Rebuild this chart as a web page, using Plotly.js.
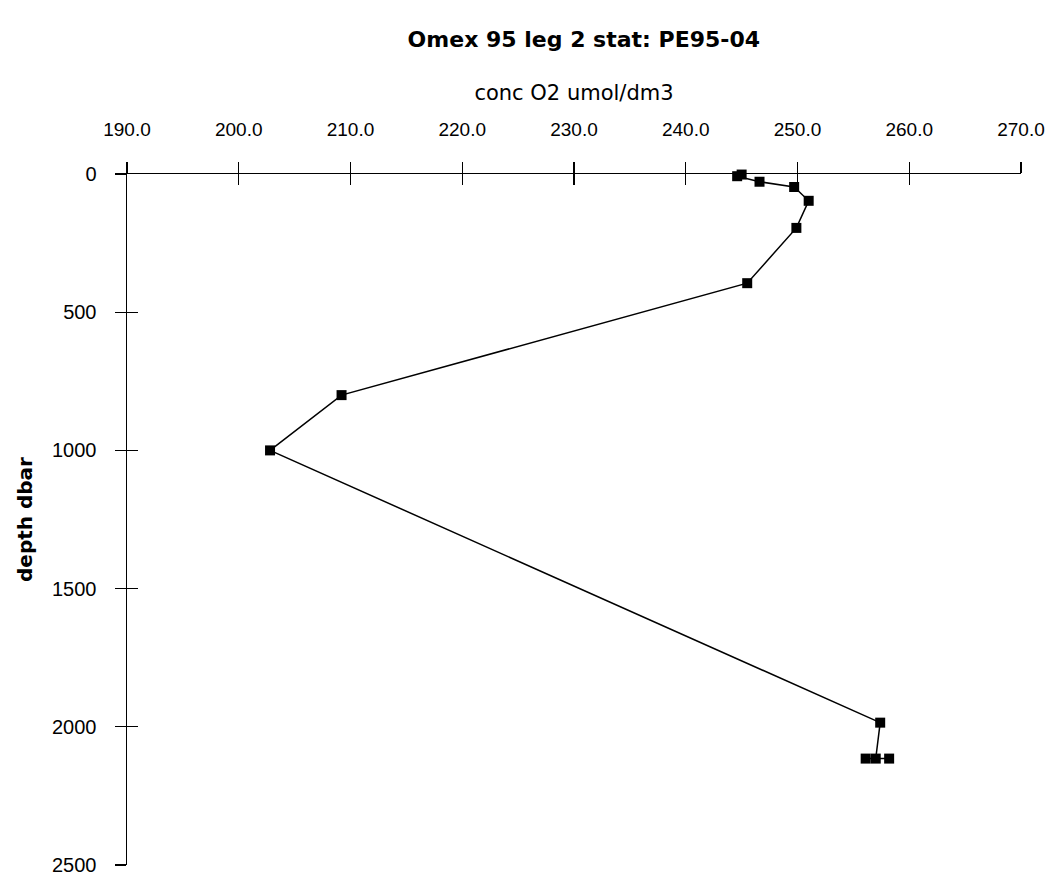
<!DOCTYPE html>
<html>
<head>
<meta charset="utf-8">
<script src="https://cdn.plot.ly/plotly-3.0.1.min.js"></script>
<style>html,body{margin:0;padding:0;background:#fff;}#chart{width:1054px;height:878px;}</style>
</head>
<body>
<div id="chart"></div>
<script>
// Oxygen concentration (umol/dm3) and depth (dbar)
const o2 = [245.0, 244.6, 246.6, 249.7, 251.0, 249.9, 245.5, 209.2, 202.8, 257.4, 257.0, 256.1, 258.2];
const depth = [2, 8, 28, 47, 97, 195, 395, 800, 1000, 1985, 2115, 2115, 2115];
const xTicks = [190, 200, 210, 220, 230, 240, 250, 260, 270];
const xTickText = xTicks.map(v => v.toFixed(1));
const yTicks = [0, 500, 1000, 1500, 2000, 2500];

const sans = "Liberation Sans, Arial, sans-serif";
const wide = "DejaVu Sans, Verdana, sans-serif";

const trace = {
  x: o2, y: depth, type: 'scatter', mode: 'lines+markers',
  line: {color: '#000', width: 1.5},
  marker: {symbol: 'square', size: 10, color: '#000'},
  showlegend: false, cliponaxis: false
};
// invisible trace to carry the inside-tick overlay axes
const ghost = {x: [190], y: [0], xaxis: 'x2', yaxis: 'y2', mode: 'markers',
  marker: {opacity: 0}, showlegend: false, hoverinfo: 'skip'};

const layout = {
  width: 1054, height: 878,
  margin: {l: 127, r: 33, t: 174, b: 13},
  paper_bgcolor: '#fff', plot_bgcolor: '#fff',
  title: {text: '<b>Omex 95 leg 2 stat: PE95-04</b>', x: 0.511, xref: 'paper', xanchor: 'center', y: 0.955, yanchor: 'middle',
          font: {family: wide, size: 22, color: '#000'}},
  xaxis: {
    side: 'top', range: [190, 270], tickvals: xTicks, ticktext: xTickText,
    ticks: 'outside', ticklen: 11, tickwidth: 1.3, tickcolor: '#000', ticklabelstandoff: 18,
    ticklabeloverflow: 'allow',
    showline: true, linecolor: '#000', linewidth: 1.5, showgrid: false, zeroline: false,
    tickfont: {family: sans, size: 19, color: '#000'},
    title: {text: 'conc O2 umol/dm3', font: {family: wide, size: 21, color: '#000'}, standoff: 12},
    anchor: 'y'
  },
  yaxis: {
    range: [2500, 0], tickvals: yTicks,
    ticks: 'outside', ticklen: 11, tickwidth: 1.3, tickcolor: '#000', ticklabelstandoff: 14,
    ticklabeloverflow: 'allow',
    showline: true, linecolor: '#000', linewidth: 1.5, showgrid: false, zeroline: false,
    tickfont: {family: sans, size: 20, color: '#000'},
    title: {text: '<b>depth dbar</b>', font: {family: wide, size: 20, color: '#000'}, standoff: 14},
    anchor: 'x'
  },
  xaxis2: {overlaying: 'x', side: 'top', range: [190, 270], tickvals: xTicks, showticklabels: false,
    ticks: 'inside', ticklen: 11, tickwidth: 1.3, tickcolor: '#000', showgrid: false, zeroline: false,
    showline: false, anchor: 'y2'},
  yaxis2: {overlaying: 'y', range: [2500, 0], tickvals: yTicks, showticklabels: false,
    ticks: 'inside', ticklen: 11, tickwidth: 1.3, tickcolor: '#000', showgrid: false, zeroline: false,
    showline: false, anchor: 'x2'}
};

Plotly.newPlot('chart', [ghost, trace], layout, {displayModeBar: false, staticPlot: true});
</script>
</body>
</html>
